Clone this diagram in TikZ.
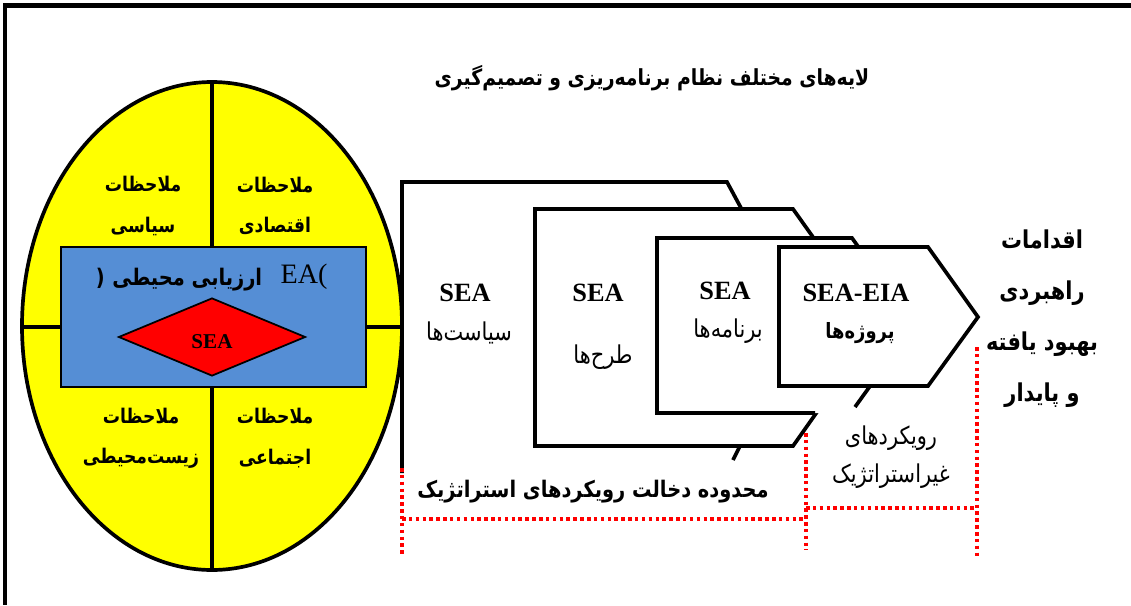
\documentclass[tikz,border=0pt]{standalone}
\usepackage{fontspec}
\setmainfont{Liberation Serif}
\newfontfamily\farsi[Script=Arabic,FakeStretch=0.85]{DejaVu Sans}
\TeXXeTstate=1
\usepackage{tikz}
\usetikzlibrary{positioning,shapes.geometric}
\definecolor{EllYellow}{RGB}{255,255,0}
\definecolor{EaBlue}{RGB}{85,142,213}
\definecolor{SeaRed}{RGB}{255,0,0}
\newcommand{\fa}[1]{\beginR #1\endR}
\tikzset{
  layer/.style={draw=black,fill=white,line width=2.1pt,line join=miter},
  quad/.style={font=\farsi\bfseries\fontsize{11.5}{23}\selectfont,align=center,inner sep=0pt},
  sea/.style={font=\bfseries\fontsize{15}{18}\selectfont,inner sep=0pt},
  fatext/.style={font=\farsi\fontsize{14}{22}\selectfont,align=center,inner sep=0pt},
  limit/.style={draw=SeaRed,line width=2pt,dash pattern=on 2pt off 1.9pt},
}
\tikzset{gem/.style={diamond,draw=black,fill=SeaRed,line width=1pt,inner sep=0pt,
    minimum width=3.74cm,minimum height=1.56cm,font=\bfseries\fontsize{12}{12}\selectfont},
  thick line/.style={draw=black,line width=2.1pt}}

\begin{document}
\begin{tikzpicture}[x=0.02cm,y=-0.02cm]
\useasboundingbox (0,0) rectangle (1131,605);
% page frame
\fill (3,3) rectangle (1131,8);
\fill (3,3) rectangle (7,605);
\node[font=\farsi\bfseries\fontsize{12.6}{13}\selectfont,inner sep=0pt] (title) at (652,78)
  {\fa{لایه^^^^200cهای مختلف نظام برنامه^^^^200cریزی و تصمیم^^^^200cگیری}};
% ellipse with the four considerations
\draw[thick line,fill=EllYellow] (212,326) ellipse [x radius=190,y radius=244];
\draw[thick line] (212,82) -- (212,570);
\draw[thick line] (22,327) -- (402,327);
\node[quad] (pol) at (143,206) {\fa{ملاحظات}\\\fa{سیاسی}};
\node[quad] (eco) at (275,206) {\fa{ملاحظات}\\\fa{اقتصادی}};
\node[quad] (env) at (141,438) {\fa{ملاحظات}\\\fa{زیست^^^^200cمحیطی}};
\node[quad] (soc) at (275,438) {\fa{ملاحظات}\\\fa{اجتماعی}};
\draw[fill=EaBlue,line width=1.5pt] (61,247) rectangle (366,387);
\node[font=\farsi\bfseries\fontsize{13}{13}\selectfont,inner sep=0pt] (eafa) at (179,280) {(\,\,\fa{ارزیابی محیطی}};
\node[font=\fontsize{16}{16}\selectfont,inner sep=0pt] (ealat) at (304,277) {EA(};
\node[gem] (sea) at (212,337) {};
\node[font=\bfseries\fontsize{12}{12}\selectfont,inner sep=0pt] at (212,342) {SEA};
% layers of planning
\draw[layer,fill=none] (402,473) -- (402,182) -- (727,182) -- (802,321) -- (733,460);
\draw[layer] (535,209) -- (793,209) -- (877,327) -- (793,446) -- (535,446) -- cycle;
\fill[white] (657,238) -- (852,238) -- (914,325) -- (850,413) -- (657,413) -- cycle;
\draw[layer,fill=none] (855,407) -- (914,325) -- (852,238) -- (657,238) -- (657,413) -- (815,413);
\draw[layer] (779,247) -- (928,247) -- (978,317) -- (928,386) -- (779,386) -- cycle;
\node[sea] (polsea) at (465,293) {SEA};
\node[fatext] (polfa) at (469,333) {\fa{سیاست^^^^200cها}};
\node[sea] (plansea) at (598,293) {SEA};
\node[fatext] (planfa) at (603,357) {\fa{طرح^^^^200cها}};
\node[sea] (progsea) at (725,291) {SEA};
\node[fatext] (progfa) at (728,331) {\fa{برنامه^^^^200cها}};
\node[sea] (projsea) at (856,293) {SEA-EIA};
\node[fatext,font=\farsi\bfseries\fontsize{12}{22}\selectfont] (projfa) at (860,333) {\fa{پروژه^^^^200cها}};
\node[fatext,font=\farsi\bfseries\fontsize{14}{29}\selectfont] (goal) at (1042,319)
  {\fa{اقدامات}\\\fa{راهبردی}\\\fa{بهبود یافته}\\\fa{و پایدار}};
\node[fatext,font=\farsi\fontsize{14}{22}\selectfont] (nonstrat) at (891,457) {\fa{رویکردهای}\\\fa{غیراستراتژیک}};
\node[fatext,font=\farsi\bfseries\fontsize{13}{13}\selectfont] (strat) at (593,492) {\fa{محدوده دخالت رویکردهای استراتژیک}};
% dotted limits
\coordinate (s1) at (402,468);
\coordinate (s2) at (402,555);
\coordinate (m1) at (806,433);
\coordinate (m2) at (806,550);
\coordinate (e1) at (977,347);
\coordinate (e2) at (977,557);
\draw[limit] (s1) -- (s2);
\draw[limit] (402,519) -- (806,519);
\draw[limit] (m1) -- (m2);
\draw[limit] (806,508) -- (977,508);
\draw[limit] (e1) -- (e2);
\end{tikzpicture}
\end{document}
